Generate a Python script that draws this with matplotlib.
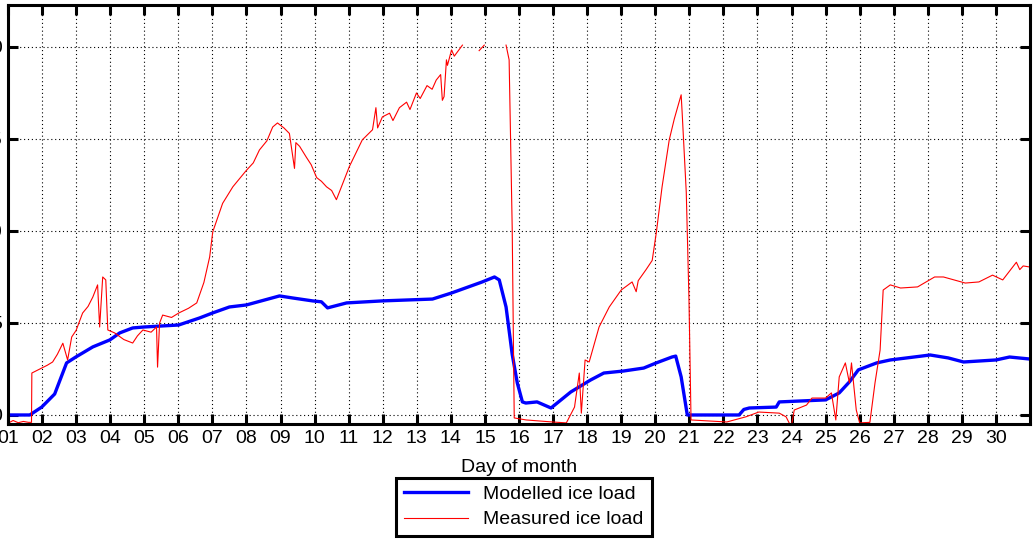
import numpy as np
import matplotlib.pyplot as plt

plt.rcParams['font.family'] = ['Liberation Sans', 'DejaVu Sans']

# modelled ice load (blue)
mod_day = [1.0, 1.64, 1.99, 2.37, 2.72, 2.99, 3.49, 3.99, 4.28, 4.66, 4.98, 6.01, 6.62,
           7.0, 7.5, 8.0, 8.97, 9.35, 9.94, 10.2, 10.38, 10.94, 11.99, 13.46, 14.02,
           14.92, 15.28, 15.42, 15.62, 15.8, 15.95, 16.1, 16.2, 16.53, 16.94, 17.52,
           18.1, 18.49, 19.07, 19.66, 20.03, 20.49, 20.6, 20.76, 20.94, 21.05, 22.46,
           22.6, 22.76, 23.55, 23.64, 25.0, 25.4, 25.7, 25.96, 26.5, 26.9, 28.07, 28.6,
           29.05, 30.0, 30.4, 31.0]
mod_val = [0.0, 0.0, 0.43, 1.14, 2.83, 3.15, 3.7, 4.08, 4.46, 4.73, 4.78, 4.89, 5.27,
           5.54, 5.87, 5.98, 6.47, 6.36, 6.2, 6.15, 5.82, 6.09, 6.2, 6.3, 6.63,
           7.23, 7.5, 7.34, 5.87, 3.3, 1.74, 0.71, 0.65, 0.71, 0.38, 1.25,
           1.9, 2.28, 2.39, 2.55, 2.83, 3.15, 3.2, 2.07, 0.0, 0.0, 0.0,
           0.3, 0.38, 0.43, 0.71, 0.82, 1.2, 1.8, 2.45, 2.83, 2.99, 3.26, 3.1,
           2.88, 2.99, 3.15, 3.04]

# measured ice load (red)
meas_day = [1.0, 1.15, 1.3, 1.45, 1.6, 1.69, 1.70, 1.99, 2.15, 2.31, 2.45, 2.61, 2.75,
            2.87, 3.0, 3.19, 3.35, 3.49, 3.63, 3.69, 3.78, 3.87, 3.93, 4.13, 4.4,
            4.66, 4.8, 4.96, 5.2, 5.36, 5.39, 5.45, 5.54, 5.8, 6.01, 6.3, 6.54,
            6.75, 6.92, 7.01, 7.3, 7.6, 8.0, 8.2, 8.38, 8.6, 8.77, 8.91, 9.1, 9.26, 9.41,
            9.45, 9.56, 9.76, 9.9, 10.06, 10.2, 10.35, 10.5, 10.64, 11.02, 11.4, 11.7,
            11.8, 11.85, 11.99, 12.2, 12.3, 12.49, 12.7, 12.8, 12.99, 13.1, 13.3,
            13.45, 13.57, 13.7, 13.75, 13.8, 13.87, 13.9, 14.02, 14.1, 14.34,
            14.4, 14.83, 14.98, 15.05, 15.62, 15.71, 15.8, 15.86, 16.21, 16.98,
            17.39, 17.63, 17.77, 17.83, 17.94, 18.06, 18.35, 18.65, 19.0, 19.32,
            19.44, 19.5, 19.73, 19.91, 20.03, 20.2, 20.41, 20.56, 20.76, 20.79,
            20.91, 20.99, 21.05, 22.1, 22.66, 23.04, 23.64, 23.84, 23.99, 24.08,
            24.44, 24.6, 25.0, 25.17, 25.3, 25.4, 25.58, 25.7, 25.76, 25.9, 26.0,
            26.3, 26.45, 26.6, 26.69, 26.9, 27.2, 27.7, 28.2, 28.46, 29.1, 29.5,
            29.9, 30.2, 30.6, 30.7, 30.8, 31.0]
meas_val = [-0.45, -0.3, -0.42, -0.35, -0.4, -0.4, 2.28, 2.55, 2.7, 2.88, 3.3, 3.9, 2.99,
            4.24, 4.6, 5.54, 5.9, 6.41, 7.07, 4.78, 7.5, 7.34, 4.62, 4.46, 4.1,
            3.91, 4.3, 4.62, 4.5, 4.78, 2.6, 5.0, 5.43, 5.3, 5.54, 5.8, 6.09,
            7.2, 8.59, 9.95, 11.5, 12.4, 13.3, 13.7, 14.4, 14.9, 15.65, 15.87, 15.6, 15.3, 13.4,
            14.8, 14.6, 14.0, 13.6, 12.9, 12.7, 12.4, 12.2, 11.7, 13.5, 14.95, 15.5,
            16.7, 15.6, 16.2, 16.4, 16.0, 16.7, 17.0, 16.6, 17.5, 17.2, 17.9,
            17.7, 18.2, 18.5, 17.1, 17.3, 19.3, 19.0, 19.84, 19.5, 20.1,
            np.nan, 19.8, 20.1, np.nan, 20.1, 19.3, 10.2, -0.16, -0.27, -0.38,
            -0.43, 0.43, 2.28, 0.1, 2.99, 2.88, 4.78, 5.87, 6.79, 7.23,
            6.7, 7.3, 7.9, 8.4, 9.9, 12.4, 14.95, 16.1, 17.4, 16.4,
            12.1, 6.25, -0.27, -0.38, -0.1, 0.16, 0.1, -0.1, -0.65, 0.27,
            0.54, 0.92, 0.92, 1.2, -0.27, 2.07, 2.83, 1.74, 2.83, 0.27, -0.43,
            -0.4, 1.74, 3.53, 6.79, 7.07, 6.9, 6.96, 7.5, 7.5, 7.17, 7.23,
            7.6, 7.34, 8.3, 7.9, 8.1, 8.04]

day_ticks = list(range(1, 31))
day_labels = ['%02d' % d for d in day_ticks]
load_ticks = [0, 5, 10, 15, 20]

fig = plt.figure(figsize=(10.33, 5.41), dpi=100)
ax = fig.add_axes([8 / 1033, 117 / 541, 1022 / 1033, 419 / 541])

ax.plot(mod_day, mod_val, color='#0000ff', linewidth=2.4, label='Modelled ice load')
ax.plot(meas_day, meas_val, color='#ff0000', linewidth=0.8, label='Measured ice load')

ax.set_xlim(1, 31)
ax.set_ylim(-0.49, 22.28)
ax.set_xticks(day_ticks)
ax.set_xticklabels(day_labels)
ax.set_yticks(load_ticks)
ax.tick_params(direction='in', length=7, width=2.2, labelsize=14, pad=4,
               top=True, right=True)
ax.grid(True, color='black', linestyle=(0, (1, 2.5)), linewidth=0.8)
for s in ax.spines.values():
    s.set_linewidth(2.2)
ax.set_xlabel('Day of month', fontsize=14, labelpad=9)

leg = fig.legend(loc='upper center', bbox_to_anchor=(0.507, 0.117), fontsize=14,
                 fancybox=False, framealpha=1, edgecolor='black', borderaxespad=0,
                 handlelength=3.3, borderpad=0.4, labelspacing=0.4)
leg.get_frame().set_linewidth(2.2)

fig.savefig('out.png', dpi=100)
